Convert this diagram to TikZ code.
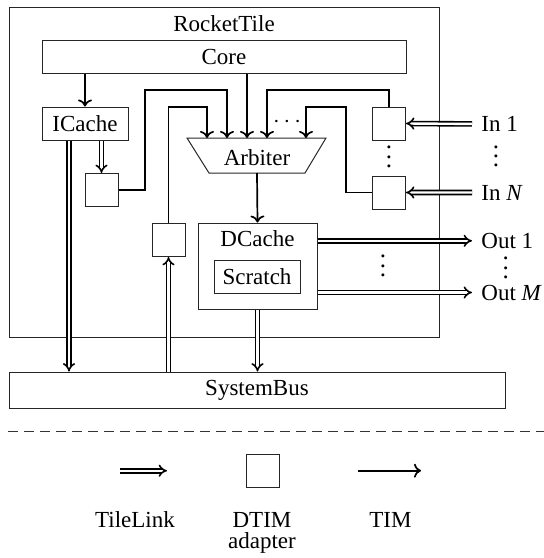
\documentclass[tikz,border=0pt]{standalone}
\usepackage{fontspec}
\setmainfont{Liberation Serif}
\usetikzlibrary{arrows.meta,calc}
% vertical ellipsis with a slightly wider dot spacing
\newcommand\vdotstack{\vbox{\baselineskip=4.6pt\lineskiplimit=-10pt\lineskip=0pt\hbox{.}\hbox{.}\hbox{.}}}
\begin{document}
\begin{tikzpicture}[x=0.5pt,y=-0.5pt,
  font=\fontsize{11.5}{13}\selectfont,
  blk/.style={draw=black!85, line width=0.5pt, inner sep=0pt, minimum height=16.5pt},
  adapter/.style={blk, minimum width=16.5pt, minimum height=16.5pt},
  lbl/.style={inner sep=0pt, anchor=base},
  side/.style={inner sep=0pt, anchor=base west},
  tim/.style={line width=0.85pt, -{To[length=3.5pt,width=7pt]}},
  tl/.style={double, double distance=1.2pt, line width=0.8pt, -{Implies}},
  dotsn/.style={inner sep=0pt, font=\fontsize{12.5}{14}\selectfont}]
\useasboundingbox (0,0) rectangle (544,558);

% tile frame and its title
\node[blk, minimum width=215pt, minimum height=165pt] (tile) at (224,172) {};
\node[lbl] (tilename) at (224,31.5) {RocketTile};

% blocks inside the tile
\node[blk, minimum width=182pt] (core) at (224,56.5) {Core};
\node[blk, minimum width=43pt] (icache) at (85,123.5) {ICache};
\node[adapter] (a1) at (101.5,190) {};
\node[adapter] (a2) at (168.5,240) {};
\node[adapter] (ain1) at (389,123.5) {};
\node[adapter] (ainN) at (389,192.5) {};
\node[blk, minimum width=59.5pt, minimum height=43pt] (dcache) at (257.5,266) {};
\node[lbl] (dcachename) at (257.5,246.7) {DCache};
\node[blk, minimum width=43pt] (scratch) at (257,276.5) {Scratch};

% arbiter (trapezoid)
\draw[black!85, line width=0.5pt] (187,138) -- (326,138) -- (305,173) -- (209,173) -- cycle;
\node[lbl] (arb) at (257,165) {Arbiter};
\coordinate (arbin1) at (207,138);
\coordinate (arbin2) at (227,138);
\coordinate (arbin3) at (247,138);
\coordinate (arbin4) at (267,138);
\coordinate (arbin5) at (306,138);
\coordinate (arbbot) at (257,173);

% system bus
\node[blk, minimum width=248pt, minimum height=18pt] (bus) at (257,390) {SystemBus};

% external ports
\node[side] (in1) at (481,131.5) {In 1};
\node[side] (inN) at (481,200) {In \textit{N}};
\node[side] (out1) at (481,248.3) {Out 1};
\node[side] (outM) at (481,300) {Out \textit{M}};

% ellipses
\node[dotsn] (hdots) at (287,122) {$\cdots$};
\node[dotsn] (vdin) at (389,157) {\vdotstack};
\node[dotsn] (vdinl) at (496,156.5) {\vdotstack};
\node[dotsn] (vdout) at (383,266) {\vdotstack};
\node[dotsn] (vdoutl) at (505.7,268) {\vdotstack};

% TIM connections
\draw[tim] (core.south -| icache.north) -- (icache.north);
\draw[tim] (core.south -| arbin3) -- (arbin3);
\draw[tim] (a1.east) -| (145,90) -| (arbin2);
\draw[tim] (a2.north) |- (207,107) -- (arbin1);
\draw[tim] (ain1.north) |- (267,90) -- (arbin4);
\draw[tim] (ainN.west) -| (346,107) -| (arbin5);
\draw[tim] (arbbot) -- (dcache.north);

% TileLink connections
\draw[tl] (icache.south -| a1.north) -- (a1.north);
\draw[tl] ([xshift=-8pt]icache.south) -- ([xshift=-8pt]icache.south |- bus.north);
\draw[tl] (dcache.south) -- (dcache.south |- bus.north);
\draw[tl] (a2.south |- bus.north) -- (a2.south);
\draw[tl] ([xshift=-4.5pt]in1.west) -- (ain1.east);
\draw[tl] ([xshift=-4.5pt]inN.west) -- (ainN.east);
\draw[tl] (dcache.east |- out1.west) -- ([xshift=-4.5pt]out1.west);
\draw[tl] (dcache.east |- outM.west) -- ([xshift=-4.5pt]outM.west);

% separator
\coordinate (sepl) at (8,431.7);
\coordinate (sepr) at (544,431.7);
\draw[black!80, line width=0.5pt, dash pattern=on 5pt off 3pt] (sepl) -- (sepr);

% legend
\coordinate (tla) at (120,470.7);
\coordinate (tlb) at (167,470.7);
\draw[tl] (tla) -- (tlb);
\node[adapter] (legbox) at (263,470.5) {};
\coordinate (tima) at (358,470.7);
\coordinate (timb) at (421,470.7);
\draw[tim] (tima) -- (timb);
\node[lbl] (tllbl) at (135,527.5) {TileLink};
\node[lbl] (dtimlbl) at (262,527.5) {DTIM};
\node[lbl] (adplbl) at (262,548) {adapter};
\node[lbl] (timlbl) at (390.5,527.5) {TIM};
\end{tikzpicture}
\end{document}
